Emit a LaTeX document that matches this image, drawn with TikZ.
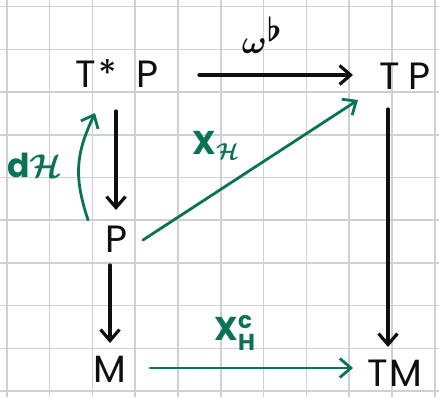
\documentclass[tikz,border=0pt]{standalone}
\usepackage{fix-cm}
\usepackage{amsmath}
\usepackage{fontspec}
\setmainfont{Poppins}
\usetikzlibrary{arrows.meta,calc}
\definecolor{ink}{RGB}{15,15,15}
\definecolor{pen}{RGB}{10,115,85}
\definecolor{gridc}{RGB}{208,208,208}
\begin{document}
\begin{tikzpicture}[x=1pt,y=1pt,
  obj/.style={inner sep=0pt, font=\fontsize{38}{40}\selectfont, text=ink},
  lab/.style={inner sep=0pt, font=\fontsize{33}{36}\selectfont\bfseries\boldmath, text=pen},
  arr/.style={line width=3.2pt, draw=ink, line cap=round, line join=round, -{Straight Barb[length=11pt,width=19pt]}},
  garr/.style={arr, draw=pen, line width=2.8pt}]
\useasboundingbox (0,0) rectangle (439,397);
\fill[white] (0,0) rectangle (439,397);
\foreach \i in {0,...,10} \draw[gridc, line width=1.6pt] ({6.7+42.8*\i},0) -- ({6.7+42.8*\i},397);
\foreach \j in {0,...,9} \draw[gridc, line width=1.6pt] (0,{390.3-42.7*\j}) -- (439,{390.3-42.7*\j});
% objects
\node[obj] (TsP) at (117,323) {T\kern2pt*\kern20pt P};
\node[obj] (TP) at (405,321) {T\kern8pt P};
\node[obj] (P) at (116,158) {P};
\node[obj] (M) at (110,28) {M};
\node[obj] (TM) at (395,24) {T\kern2pt M};
% labels
\node[lab, text=ink] (wb) at (262,362) {$\omega^{\textstyle\flat}$};
\node[lab] (XH) at (216,252) {X$_{\mathcal{H}}$};
\node[lab] (XHc) at (235,64) {X$^{\text{c}}_{\text{H}}$};
\node[lab] (dH) at (35,232) {d$\mathcal{H}$};
% arrows
\draw[arr] ($(TsP)+(82,-1)$) -- ($(TP)+(-52,1)$);
\draw[arr] ($(TsP)+(-1,-37)$) -- ($(P)+(0,29)$);
\draw[arr] ($(P)+(-6,-26)$) -- ($(M)+(0,26)$);
\draw[arr] ($(TP)+(-17,-33)$) -- ($(TM)+(-7,26)$);
\draw[garr] ($(P)+(27,-1)$) -- ($(TP)+(-47,-24)$);
\draw[garr] ($(M)+(40,1)$) -- ($(TM)+(-42,5)$);
\draw[garr] ($(P)+(-28,19)$) to[out=108,in=245,looseness=1.1] ($(TsP)+(-22,-39)$);
\end{tikzpicture}
\end{document}
